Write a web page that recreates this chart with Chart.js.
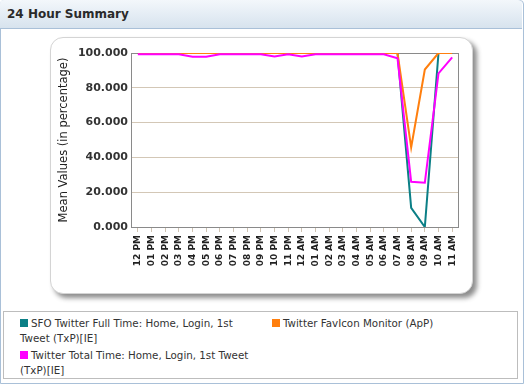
<!DOCTYPE html>
<html>
<head>
<meta charset="utf-8">
<script src="https://cdn.jsdelivr.net/npm/chart.js@4/dist/chart.umd.min.js"></script>
<style>
  html, body { margin:0; padding:0; background:#fff; font-family:"DejaVu Sans", Verdana, sans-serif; }
  #panel { position:absolute; left:0; top:0; width:522px; height:382px; border:1px solid #a9c0d8; border-radius:4px 4px 0 0; background:#fff; }
  #header { position:absolute; left:0; top:0; width:522px; height:28px; border-bottom:1px solid #a9c0d8;
            background:linear-gradient(#f3f7fb,#d7e3ee); border-radius:4px 4px 0 0; }
  #header span { position:absolute; left:7px; top:7px; font:bold 12px "DejaVu Sans", Verdana, sans-serif; color:#2a2a2a; }
  #card { position:absolute; left:50px; top:37px; width:421px; height:255px; border:1px solid #d4d4d4; border-radius:13px;
          background:#fff; box-shadow:4px 4px 5px rgba(0,0,0,0.45); }
  #wrap { position:absolute; left:50px; top:37px; width:422px; height:256px; }
  #legend { position:absolute; left:3px; top:311px; width:497px; height:62px; border:1px solid #bdbdbd; padding:4px 0 0 16px;
            font-size:10.3px; line-height:14.5px; color:#333; display:flex; flex-wrap:wrap; column-gap:20px; align-content:flex-start; }
  .item { width:232px; margin-bottom:3px; }
  .sw { display:inline-block; width:8px; height:8px; margin-right:3px; }
</style>
</head>
<body>
<div id="panel"></div>
<div id="header"><span>24 Hour Summary</span></div>
<div id="card"></div>
<div id="wrap"><canvas id="c" width="422" height="256"></canvas></div>
<div id="legend"></div>
<script>
const categories = ["12 PM","01 PM","02 PM","03 PM","04 PM","05 PM","06 PM","07 PM","08 PM","09 PM","10 PM","11 PM",
                    "12 AM","01 AM","02 AM","03 AM","04 AM","05 AM","06 AM","07 AM","08 AM","09 AM","10 AM","11 AM"];
const seriesNames = ["SFO Twitter Full Time: Home, Login, 1st Tweet (TxP)[IE]",
                     "Twitter FavIcon Monitor (ApP)",
                     "Twitter Total Time: Home, Login, 1st Tweet (TxP)[IE]"];
const sfoFullTime = [100,100,100,100,100,100,100,100,100,100,100,100,100,100,100,100,100,100,100,100,11,0,100,100];
const favIconMonitor = [100,100,100,100,100,100,100,100,100,100,100,100,100,100,100,100,100,100,100,100,45.8,90.5,100,100];
const totalTime = [99.3,99.3,99.3,99.3,97.9,97.9,99.3,99.3,99.3,99.3,98,99.3,98,99.3,99.3,99.3,99.3,99.3,99.3,97,26,25.5,88.3,97.5];
const yTicks = [0,20,40,60,80,100];
const colors = ["#0b7f86","#ff7f0e","#ff00ff"];

const frame = {
  id:'frame',
  beforeDatasetsDraw(chart){
    const {ctx, chartArea:a} = chart;
    ctx.save();
    ctx.strokeStyle = '#8a8a8a';
    ctx.lineWidth = 1;
    ctx.strokeRect(Math.round(a.left)+0.5, Math.round(a.top)+0.5, Math.round(a.right-a.left)-1, Math.round(a.bottom-a.top));
    ctx.restore();
  }
};

const values = [sfoFullTime, favIconMonitor, totalTime];
const orders = [2,1,0];
new Chart(document.getElementById('c'), {
  type:'line',
  data:{
    labels:categories,
    datasets: values.map((v,i)=>({
      label:seriesNames[i], data:v, borderColor:colors[i], backgroundColor:colors[i],
      borderWidth:2, pointRadius:0, tension:0, fill:false, order:orders[i]
    }))
  },
  options:{
    responsive:false, animation:false,
    layout:{padding:{left:0, top:16, right:13, bottom:0}},
    plugins:{legend:{display:false}, tooltip:{enabled:false}},
    scales:{
      x:{
        offset:true,
        grid:{offset:false, drawOnChartArea:false, drawTicks:true, tickLength:5, color:'#cfc3b2'},
        border:{display:false},
        ticks:{autoSkip:false, minRotation:90, maxRotation:90, padding:3, color:'#222',
               font:{family:'"DejaVu Sans"', size:9, weight:'bold'}},
        afterFit(s){ s.height = 66; }
      },
      y:{
        min:0, max:100,
        afterBuildTicks(s){ s.ticks = yTicks.map(v=>({value:v})); },
        grid:{drawTicks:false, color:'#d3c7b6', lineWidth:1},
        border:{display:false},
        ticks:{padding:3, color:'#333', font:{family:'"DejaVu Sans"', size:11, weight:'bold'},
               callback:(v)=>Number(v).toFixed(3)},
        title:{display:true, text:'Mean Values (in percentage)', color:'#222', padding:{top:7,bottom:0},
               font:{family:'"DejaVu Sans"', size:11.5}},
        afterFit(s){ s.width = 81; }
      }
    }
  },
  plugins:[frame]
});

const lg = document.getElementById('legend');
seriesNames.forEach((n,i)=>{
  const d = document.createElement('div'); d.className='item';
  const sw = document.createElement('span'); sw.className='sw'; sw.style.background=colors[i];
  d.appendChild(sw); d.appendChild(document.createTextNode(n));
  lg.appendChild(d);
});
</script>
</body>
</html>
